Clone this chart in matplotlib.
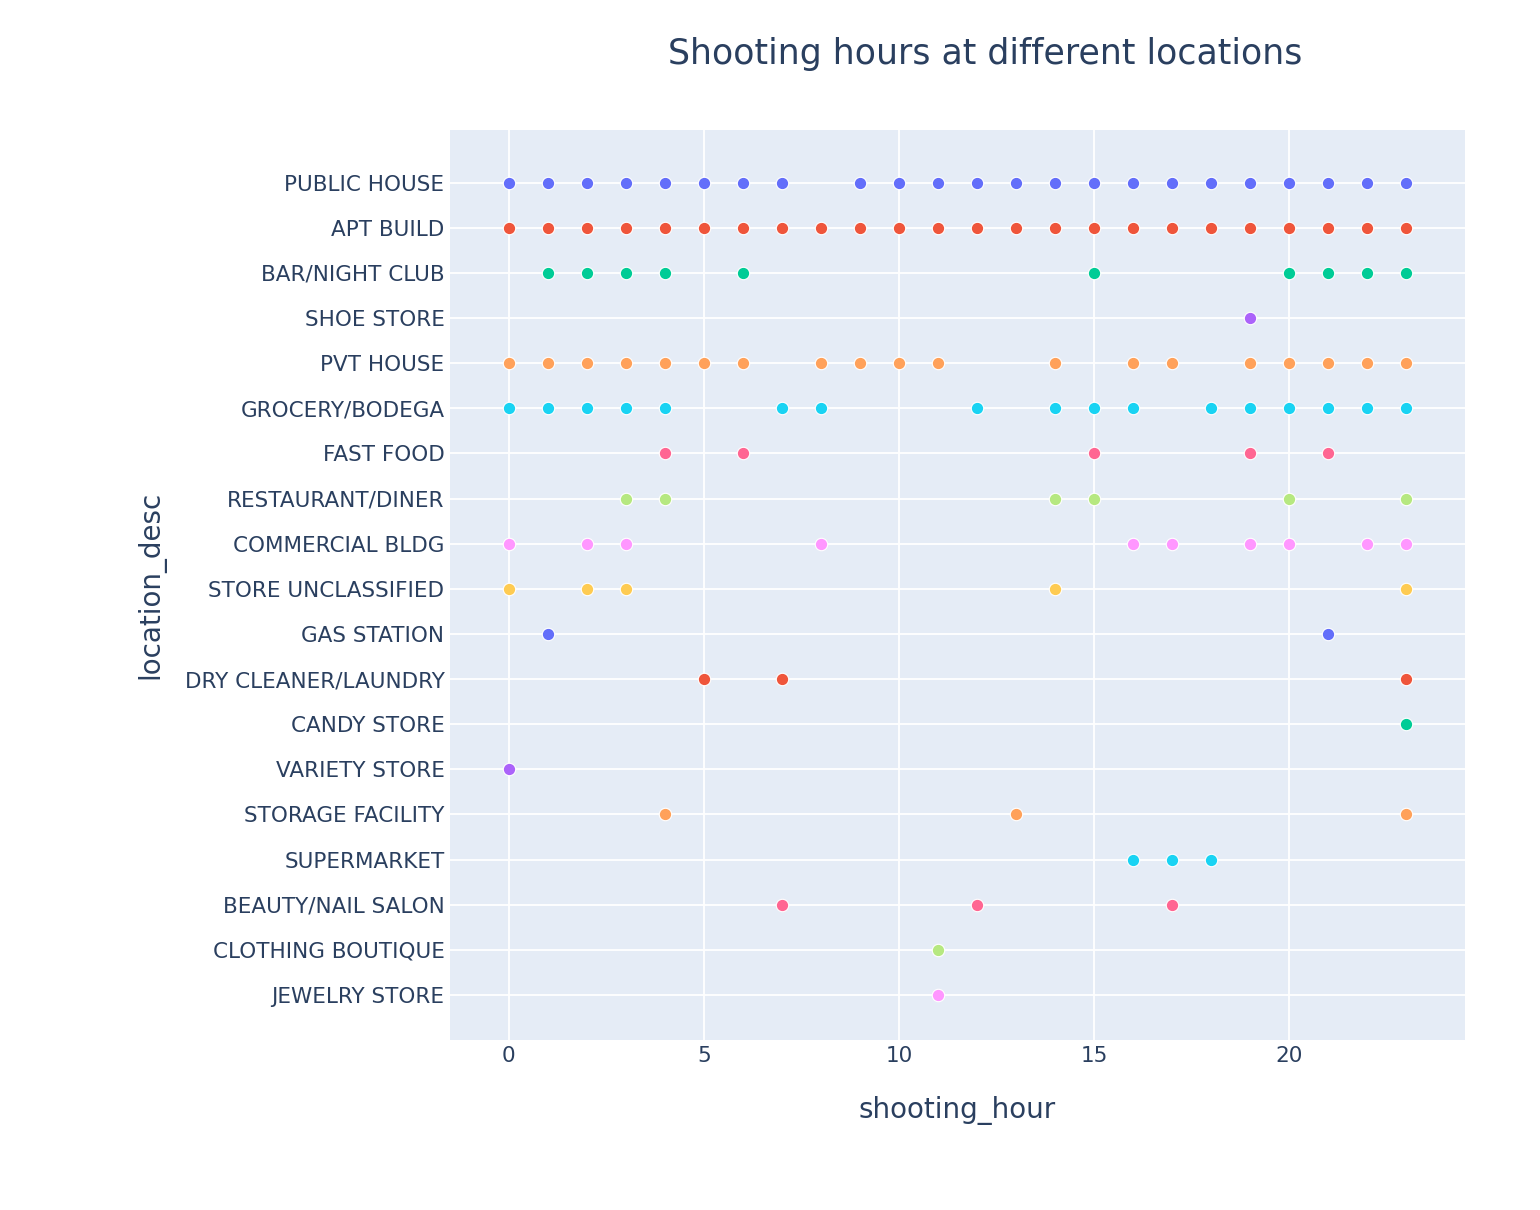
import matplotlib.pyplot as plt

locations = ["PUBLIC HOUSE", "APT BUILD", "BAR/NIGHT CLUB", "SHOE STORE", "PVT HOUSE",
             "GROCERY/BODEGA", "FAST FOOD", "RESTAURANT/DINER", "COMMERCIAL BLDG",
             "STORE UNCLASSIFIED", "GAS STATION", "DRY CLEANER/LAUNDRY", "CANDY STORE",
             "VARIETY STORE", "STORAGE FACILITY", "SUPERMARKET", "BEAUTY/NAIL SALON",
             "CLOTHING BOUTIQUE", "JEWELRY STORE"]

hours = [
    [0, 1, 2, 3, 4, 5, 6, 7, 9, 10, 11, 12, 13, 14, 15, 16, 17, 18, 19, 20, 21, 22, 23],
    list(range(24)),
    [1, 2, 3, 4, 6, 15, 20, 21, 22, 23],
    [19],
    [0, 1, 2, 3, 4, 5, 6, 8, 9, 10, 11, 14, 16, 17, 19, 20, 21, 22, 23],
    [0, 1, 2, 3, 4, 7, 8, 12, 14, 15, 16, 18, 19, 20, 21, 22, 23],
    [4, 6, 15, 19, 21],
    [3, 4, 14, 15, 20, 23],
    [0, 2, 3, 8, 16, 17, 19, 20, 22, 23],
    [0, 2, 3, 14, 23],
    [1, 21],
    [5, 7, 23],
    [23],
    [0],
    [4, 13, 23],
    [16, 17, 18],
    [7, 12, 17],
    [11],
    [11],
]

colors = ["#636EFA", "#EF553B", "#00CC96", "#AB63FA", "#FFA15A",
          "#19D3F3", "#FF6692", "#B6E880", "#FF97FF", "#FECB52"]

fig = plt.figure(figsize=(15.4, 12.1), dpi=100)
ax = fig.add_axes([0.2922, 0.1405, 0.6591, 0.7521])
ax.set_facecolor("#E5ECF6")

for i, (loc, hs) in enumerate(zip(locations, hours)):
    ax.scatter(hs, [i] * len(hs), s=80, color=colors[i % len(colors)],
               edgecolors="white", linewidths=0.8, zorder=3)

ax.set_yticks(range(len(locations)))
ax.set_yticklabels(locations)
ax.set_xticks([0, 5, 10, 15, 20])
ax.set_xlim(-1.5, 24.5)
ax.set_ylim(len(locations) - 1 + 1.0, -1.17)
ax.grid(color="white", linewidth=1.3, zorder=0)
ax.set_axisbelow(True)
for s in ax.spines.values():
    s.set_visible(False)
ax.tick_params(length=0, labelsize=15.5, colors="#2A3F5F", pad=4)

ax.set_xlabel("shooting_hour", fontsize=20, color="#2A3F5F", labelpad=22)
ax.set_ylabel("location_desc", fontsize=20, color="#2A3F5F", labelpad=14)
fig.text(0.64, 0.955, "Shooting hours at different locations", fontsize=25,
         color="#2A3F5F", ha="center", va="center")

fig.savefig("out.png")
